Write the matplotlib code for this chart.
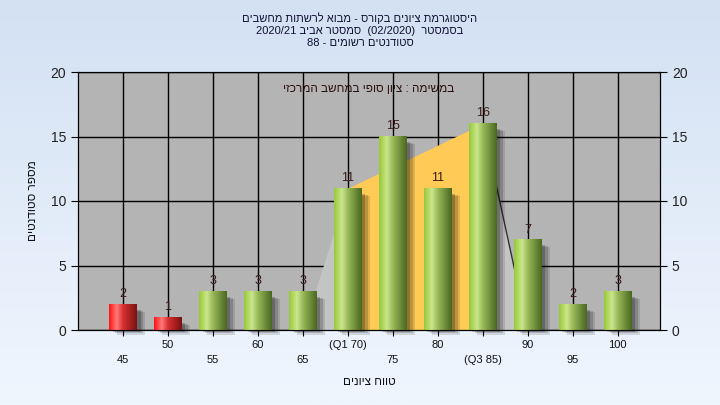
import matplotlib
matplotlib.use("Agg")
import matplotlib.pyplot as plt
import numpy as np
from matplotlib.colors import LinearSegmentedColormap

plt.rcParams['font.family'] = ['Liberation Sans', 'DejaVu Sans']

# data
grades = [45, 50, 55, 60, 65, 70, 75, 80, 85, 90, 95, 100]
counts = [2, 1, 3, 3, 3, 11, 15, 11, 16, 7, 2, 3]
tick_names = ["45", "50", "55", "60", "65", "(Q1 70)", "75", "80", "(Q3 85)", "90", "95", "100"]
fail_limit = 55

# quartile shape behind the bars
quart_x = [65, 70, 85, 90]
quart_y = [0, 11, 16, 0]

title_lines = ["היסטוגרמת ציונים בקורס - מבוא לרשתות מחשבים",
               "בסמסטר  (02/2020)  סמסטר אביב 2020/21",
               "סטודנטים רשומים - 88"]
note = "במשימה : ציון סופי במחשב המרכזי"
xlab = "טווח ציונים"
ylab = "מספר סטודנטים"


def rtl(s):
    # matplotlib has no bidi, so flip word order and hebrew words by hand
    out = []
    for tok in s.split(' ')[::-1]:
        if any('\u0590' <= c <= '\u05ff' for c in tok):
            tok = tok[::-1]
        out.append(tok)
    return ' '.join(out)


fig = plt.figure(figsize=(7.2, 4.05), dpi=100)

# light blue gradient background
bg = fig.add_axes([0, 0, 1, 1], zorder=-10)
grad = np.linspace(0, 1, 256).reshape(-1, 1)
bg_cmap = LinearSegmentedColormap.from_list("bg", ["#d3e1f3", "#f0f6fe"])
bg.imshow(grad, aspect='auto', cmap=bg_cmap, extent=[0, 1, 0, 1], origin='upper')
bg.axis('off')

ax = fig.add_axes([78 / 720, 75 / 405, 582 / 720, 258 / 405])
ax.set_facecolor('#b4b4b4')
ax.set_xlim(40, 104.7)
ax.set_ylim(0, 20)

ax.set_xticks(grades)
ax.set_xticklabels([])
ax.set_yticks([0, 5, 10, 15, 20])
ax.grid(True, color='black', linewidth=1, zorder=1)
ax.set_axisbelow(True)
ax.tick_params(axis='x', length=4, color='black')
ax.tick_params(axis='y', length=5, labelsize=10, labelcolor='#222222')
for s in ax.spines.values():
    s.set_color('black')

# quartile area
qx = np.array(quart_x, dtype=float)
qy = np.array(quart_y, dtype=float)
ax.fill_between(qx[:2], qy[:2], color='#c4c4c4', zorder=2, linewidth=0)
ax.fill_between(qx[1:3], qy[1:3], color='#ffca55', zorder=2, linewidth=0)
ax.fill_between(qx[2:], qy[2:], color='#c4c4c4', zorder=2, linewidth=0)
ax.plot(qx[2:], qy[2:], color='#303030', linewidth=1, zorder=2.5)

green = LinearSegmentedColormap.from_list(
    "g", [(0, "#98c83a"), (0.28, "#cbe78c"), (0.5, "#98b858"), (1, "#4a6820")])
red = LinearSegmentedColormap.from_list(
    "r", [(0, "#ff1414"), (0.28, "#ff7a7a"), (0.5, "#d83030"), (1, "#7a1212")])
hgrad = np.linspace(0, 1, 64).reshape(1, -1)

w = 3.1
for g, c in zip(grades, counts):
    cmap = red if g < fail_limit else green
    # soft shadow
    for k, a in enumerate([0.12, 0.16, 0.22]):
        off = 0.9 - 0.25 * k
        ax.add_patch(plt.Rectangle((g - w / 2 + off, -0.35 + 0.08 * k), w, c - 0.25,
                                   color='black', alpha=a, zorder=2.8,
                                   linewidth=0, clip_on=False))
    ax.imshow(hgrad, cmap=cmap, aspect='auto', zorder=3,
              extent=[g - w / 2, g + w / 2, 0, c])
    ax.annotate(str(c), (g, c), xytext=(0, 3), textcoords='offset points',
                ha='center', va='bottom', fontsize=9, color='#3a1818', zorder=4)

ax.set_xlim(40, 104.7)
ax.set_ylim(0, 20)

# staggered x labels
tr = ax.get_xaxis_transform()
for i, (g, name) in enumerate(zip(grades, tick_names)):
    yy = -0.118 if i % 2 == 0 else -0.058
    ax.text(g, yy, name, transform=tr, ha='center', va='center', fontsize=8,
            color='#111111')

ax2 = ax.twinx()
ax2.set_ylim(0, 20)
ax2.set_yticks([0, 5, 10, 15, 20])
ax2.tick_params(axis='y', length=5, labelsize=10, labelcolor='#222222')

ax.text(0.5, -0.2, rtl(xlab), transform=ax.transAxes, ha='center', va='center',
        fontsize=8.5, color='#111111')
ax.text(-0.077, 0.5, rtl(ylab), transform=ax.transAxes, ha='center', va='center',
        rotation=90, fontsize=8.5, color='#111111')
ax.text(0.5, 0.935, rtl(note), transform=ax.transAxes, ha='center', va='center',
        fontsize=8.5, color='#2a1010', zorder=5)

for i, line in enumerate(title_lines):
    fig.text(0.5, 1 - (18 + 12.5 * i) / 405, rtl(line), ha='center', va='center',
             fontsize=8, color='#111133')

fig.savefig("out.png", dpi=100)
